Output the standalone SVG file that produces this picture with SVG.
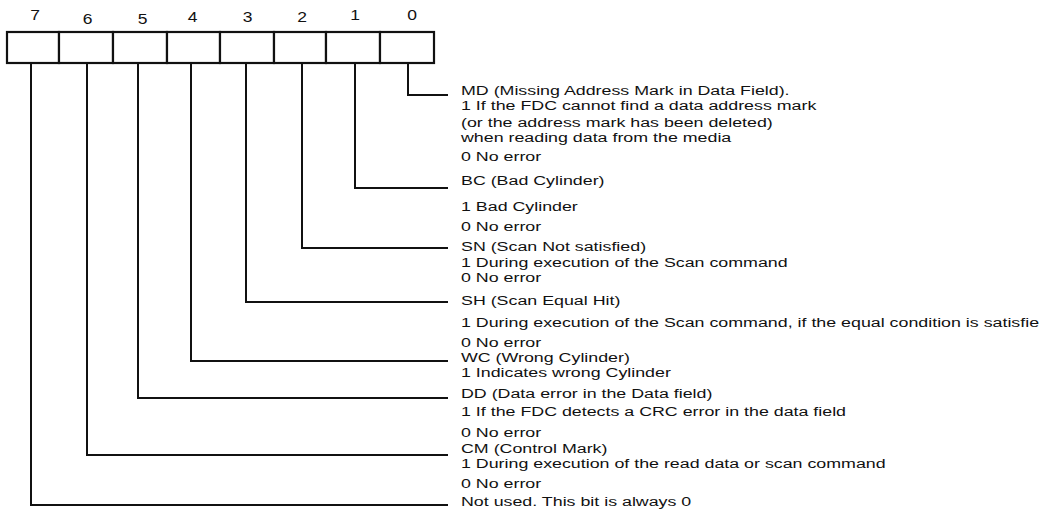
<svg xmlns="http://www.w3.org/2000/svg" width="1055" height="512" viewBox="0 0 1055 512">
<style>
  text { font-family: "Liberation Sans", Arial, sans-serif; font-size: 13.5px; fill: #111; }
  .num { text-anchor: middle; font-size: 14px; }
  .cell { fill: #fff; stroke: #111; stroke-width: 2.2; }
  .conn { fill: none; stroke: #111; stroke-width: 2; }
</style>
<rect width="1055" height="512" fill="#fff"/>
<g id="register">
  <g id="bit7"><rect class="cell" x="7" y="32" width="52" height="31"/><text class="num" transform="translate(35 20) scale(1.25 1)">7</text></g>
  <g id="bit6"><rect class="cell" x="59" y="32" width="54" height="31"/><text class="num" transform="translate(87.5 24) scale(1.25 1)">6</text></g>
  <g id="bit5"><rect class="cell" x="113" y="32" width="54" height="31"/><text class="num" transform="translate(142.5 24) scale(1.25 1)">5</text></g>
  <g id="bit4"><rect class="cell" x="167" y="32" width="53" height="31"/><text class="num" transform="translate(192.5 21.5) scale(1.25 1)">4</text></g>
  <g id="bit3"><rect class="cell" x="220" y="32" width="54" height="31"/><text class="num" transform="translate(247.5 22) scale(1.25 1)">3</text></g>
  <g id="bit2"><rect class="cell" x="274" y="32" width="52" height="31"/><text class="num" transform="translate(302 22) scale(1.25 1)">2</text></g>
  <g id="bit1"><rect class="cell" x="326" y="32" width="54" height="31"/><text class="num" transform="translate(355 20) scale(1.25 1)">1</text></g>
  <g id="bit0"><rect class="cell" x="380" y="32" width="54" height="31"/><text class="num" transform="translate(412 20) scale(1.25 1)">0</text></g>
</g>
<g id="connectors">
  <polyline class="conn" points="408,63 408,95 448,95"/>
  <polyline class="conn" points="355,63 355,188 448,188"/>
  <polyline class="conn" points="302,63 302,248 448,248"/>
  <polyline class="conn" points="246,63 246,302 448,302"/>
  <polyline class="conn" points="191,63 191,361 448,361"/>
  <polyline class="conn" points="138,63 138,398 448,398"/>
  <polyline class="conn" points="87,63 87,455 448,455"/>
  <polyline class="conn" points="31,63 31,505 448,505"/>
</g>
<g id="desc-bit0">
  <text transform="translate(461 95) scale(1.32 1)">MD (Missing Address Mark in Data Field).</text>
  <text transform="translate(461 110) scale(1.32 1)">1 If the FDC cannot find a data address mark</text>
  <text transform="translate(461 127) scale(1.32 1)">(or the address mark has been deleted)</text>
  <text transform="translate(461 142) scale(1.32 1)">when reading data from the media</text>
  <text transform="translate(461 161) scale(1.32 1)">0 No error</text>
</g>
<g id="desc-bit1">
  <text transform="translate(461 185) scale(1.32 1)">BC (Bad Cylinder)</text>
  <text transform="translate(461 211) scale(1.32 1)">1 Bad Cylinder</text>
  <text transform="translate(461 231) scale(1.32 1)">0 No error</text>
</g>
<g id="desc-bit2">
  <text transform="translate(461 251) scale(1.32 1)">SN (Scan Not satisfied)</text>
  <text transform="translate(461 267) scale(1.32 1)">1 During execution of the Scan command</text>
  <text transform="translate(461 282) scale(1.32 1)">0 No error</text>
</g>
<g id="desc-bit3">
  <text transform="translate(461 305) scale(1.32 1)">SH (Scan Equal Hit)</text>
  <text transform="translate(461 327) scale(1.32 1)">1 During execution of the Scan command, if the equal condition is satisfie</text>
  <text transform="translate(461 347) scale(1.32 1)">0 No error</text>
</g>
<g id="desc-bit4">
  <text transform="translate(461 362) scale(1.32 1)">WC (Wrong Cylinder)</text>
  <text transform="translate(461 377) scale(1.32 1)">1 Indicates wrong Cylinder</text>
</g>
<g id="desc-bit5">
  <text transform="translate(461 398) scale(1.32 1)">DD (Data error in the Data field)</text>
  <text transform="translate(461 416) scale(1.32 1)">1 If the FDC detects a CRC error in the data field</text>
  <text transform="translate(461 437) scale(1.32 1)">0 No error</text>
</g>
<g id="desc-bit6">
  <text transform="translate(461 453) scale(1.32 1)">CM (Control Mark)</text>
  <text transform="translate(461 468) scale(1.32 1)">1 During execution of the read data or scan command</text>
  <text transform="translate(461 488) scale(1.32 1)">0 No error</text>
</g>
<g id="desc-bit7">
  <text transform="translate(461 506) scale(1.32 1)">Not used. This bit is always 0</text>
</g>
</svg>
